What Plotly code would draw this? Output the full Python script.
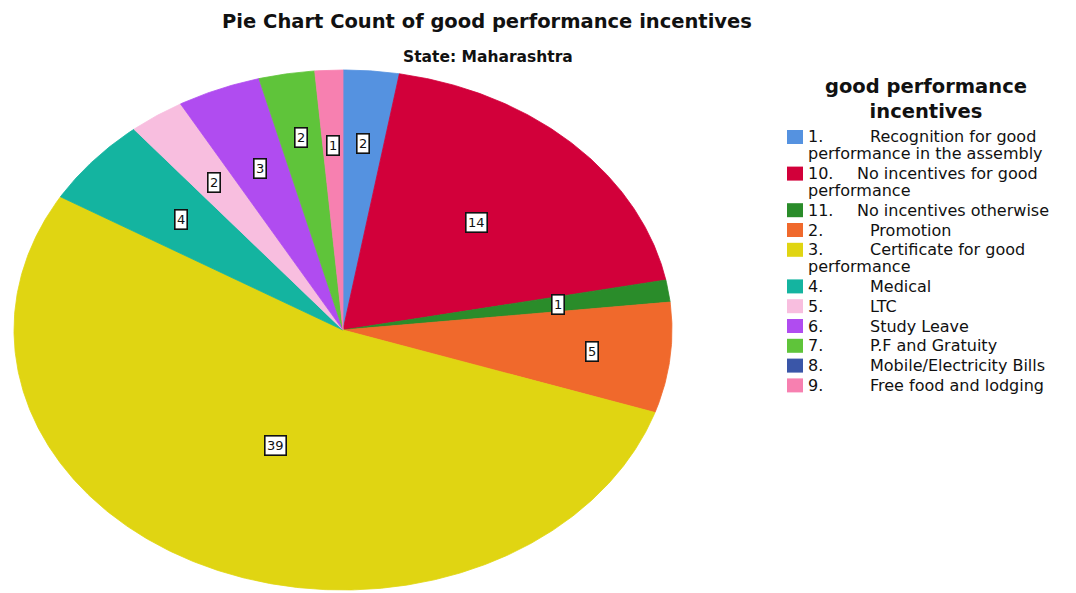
import numpy as np
import plotly.graph_objects as go

# Incentive categories, in the order they run clockwise from 12 o'clock
codes = ["1.", "10.", "11.", "2.", "3.", "4.", "5.", "6.", "7.", "8.", "9."]
names = [
    "Recognition for good<br>performance in the assembly",
    "No incentives for good<br>performance",
    "No incentives otherwise",
    "Promotion",
    "Certificate for good<br>performance",
    "Medical",
    "LTC",
    "Study Leave",
    "P.F and Gratuity",
    "Mobile/Electricity Bills",
    "Free food and lodging",
]
counts = [2, 14, 1, 5, 39, 4, 2, 3, 2, 0, 1]

colors = ["#5592e0", "#d2003a", "#2a8c2a", "#f0692c", "#e0d512", "#14b4a0",
          "#f8bedf", "#b04cf0", "#5fc43a", "#3a56a8", "#f780b0"]
# radial placement of each count label (fraction of the radius)
label_r = [0.72, 0.58, 0.66, 0.76, 0.49, 0.65, 0.69, 0.67, 0.75, 0.0, 0.71]

# page geometry: the pie is an ellipse centred at (CX, CY) px with radii RX, RY
W, H = 1076, 593
CX, CY, RX, RY = 343, 330, 329, 260

# legend block geometry (px)
LEG_SWATCH_X, LEG_TEXT_X = 787, 806
LEG_TOP, LINE_H, ITEM_GAP = 137, 16.8, 3.0
LEG_TITLE_X, LEG_TITLE_Y = 926, 99

TEXT = "#111"
FONT = "DejaVu Sans"


def px(x):
    return x / W


def py(y):
    return 1 - y / H


total = sum(counts)
bounds = np.concatenate([[0], np.cumsum(counts)]) / total * 2 * np.pi

fig = go.Figure()
annotations = []
shapes = []

# pie slices and their count labels
for i, (n, col) in enumerate(zip(counts, colors)):
    a0, a1 = bounds[i], bounds[i + 1]
    if n == 0:
        continue
    th = np.linspace(a0, a1, max(4, int((a1 - a0) * 120)))
    xs = np.concatenate([[0], np.sin(th), [0]])
    ys = np.concatenate([[0], np.cos(th), [0]])
    fig.add_trace(go.Scatter(
        x=xs, y=ys, mode="lines", fill="toself", fillcolor=col,
        line=dict(color=col, width=0.8), name=f"{codes[i]} {names[i]}",
        showlegend=False, hoverinfo="skip",
    ))
    mid = (a0 + a1) / 2
    annotations.append(dict(
        x=np.sin(mid) * label_r[i], y=np.cos(mid) * label_r[i],
        xref="x", yref="y", text=str(n), showarrow=False,
        font=dict(family=FONT, size=13, color=TEXT),
        bgcolor="white", bordercolor="#111", borderwidth=1.6, borderpad=1.5,
    ))

# legend: coloured swatch, code, then the category name on a tab stop
leg_font = dict(family=FONT, size=16, color=TEXT)
y = LEG_TOP
for code, name, col in zip(codes, names, colors):
    shapes.append(dict(
        type="rect", xref="paper", yref="paper",
        x0=px(LEG_SWATCH_X), x1=px(LEG_SWATCH_X + 16),
        y0=py(y - 7), y1=py(y + 7),
        fillcolor=col, line=dict(width=0),
    ))
    annotations.append(dict(
        x=px(LEG_TEXT_X), y=py(y), xref="paper", yref="paper",
        xanchor="left", yanchor="middle", text=code, showarrow=False,
        font=leg_font,
    ))
    lines = name.split("<br>")
    tab_x = 868 if len(code) == 2 else 855
    annotations.append(dict(
        x=px(tab_x), y=py(y), xref="paper", yref="paper",
        xanchor="left", yanchor="middle", text=lines[0], showarrow=False,
        font=leg_font,
    ))
    for k, extra in enumerate(lines[1:], start=1):
        annotations.append(dict(
            x=px(LEG_TEXT_X), y=py(y + k * LINE_H), xref="paper", yref="paper",
            xanchor="left", yanchor="middle", text=extra, showarrow=False,
            font=leg_font,
        ))
    y += len(lines) * LINE_H + ITEM_GAP

# legend title
annotations.append(dict(
    x=px(LEG_TITLE_X), y=py(LEG_TITLE_Y), xref="paper", yref="paper",
    xanchor="center", yanchor="middle", align="center",
    text="good performance<br>incentives", showarrow=False,
    font=dict(family=FONT, size=19.5, color=TEXT, weight="bold"),
))

# subtitle
annotations.append(dict(
    x=px(488), y=py(57), xref="paper", yref="paper",
    xanchor="center", yanchor="middle",
    text="State: Maharashtra", showarrow=False,
    font=dict(family=FONT, size=15.5, color=TEXT, weight="bold"),
))

fig.update_layout(
    width=W, height=H,
    margin=dict(l=0, r=0, t=0, b=0),
    paper_bgcolor="white", plot_bgcolor="white",
    title=dict(
        text="Pie Chart Count of good performance incentives",
        x=px(487), xanchor="center", y=py(21), yanchor="middle",
        font=dict(family=FONT, size=19.5, color=TEXT, weight="bold"),
    ),
    xaxis=dict(range=[-CX / RX, (W - CX) / RX], visible=False, fixedrange=True),
    yaxis=dict(range=[-(H - CY) / RY, CY / RY], visible=False, fixedrange=True),
    annotations=annotations,
    shapes=shapes,
    showlegend=False,
)

fig.write_html("out.html")
